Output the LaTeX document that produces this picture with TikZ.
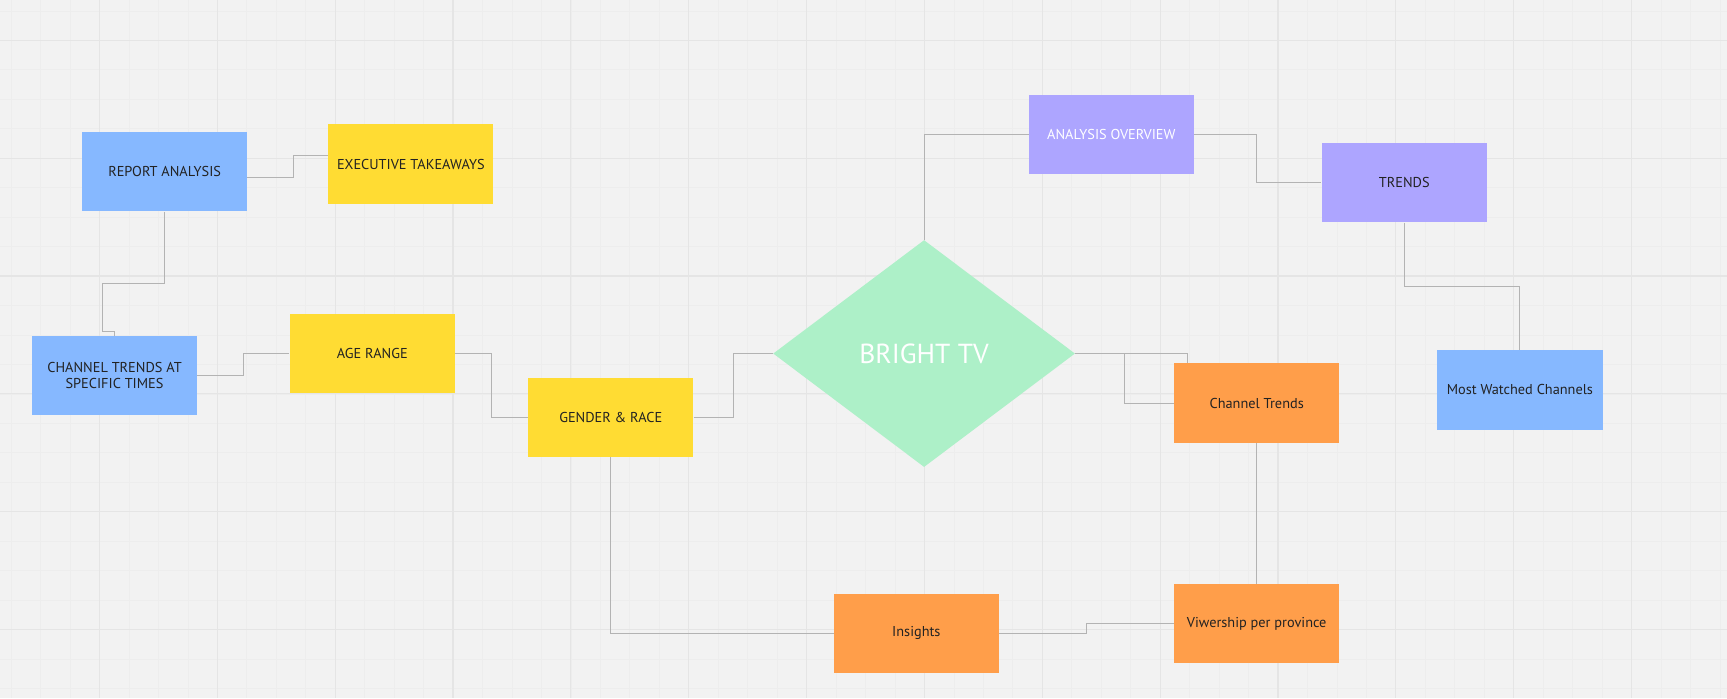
\documentclass[tikz,border=0pt]{standalone}
\usepackage{fontspec}
\setmainfont{PT Sans}
\usepackage{tikz}
\usetikzlibrary{positioning, shapes.geometric}
\definecolor{boardBg}{HTML}{F2F2F2}
\definecolor{gridMajor}{HTML}{E5E5E5}
\definecolor{gridMinor}{HTML}{EDEDED}
\definecolor{noteBlue}{HTML}{86B8FF}
\definecolor{noteYellow}{HTML}{FFDC33}
\definecolor{notePurple}{HTML}{ADA5FF}
\definecolor{noteOrange}{HTML}{FF9E4A}
\definecolor{noteGreen}{HTML}{ADF0C8}
\definecolor{linkGray}{HTML}{B3B3B3}
\definecolor{inkDark}{HTML}{222222}
\tikzset{Box/.style={%
    shape=rectangle,%
    minimum width=150pt,%
    minimum height=72pt,%
    inner sep=2pt,%
    text=inkDark,%
    align=center,%
    font=\fontsize{13}{14}\selectfont,%
}}
\tikzset{Hub/.style={%
    shape=diamond,%
    fill=noteGreen,%
    minimum width=274pt,%
    minimum height=206pt,%
    inner sep=0pt,%
    text=white,%
    font=\fontsize{25}{28}\selectfont,%
}}
\tikzset{Link/.style={%
    draw=linkGray,%
    line width=0.9pt,%
}}

\begin{document}
\begin{tikzpicture}[x=1pt, y=-1pt]
    % board and grid
    \useasboundingbox (0,0) rectangle (1568,634);
    \fill[boardBg] (0,0) rectangle (1568,634);
    \foreach \gx in {10.05,36.8,...,1568}
        \draw[gridMinor, line width=0.6pt] (\gx,0) -- (\gx,634);
    \foreach \gy in {9.85,36.6,...,634}
        \draw[gridMinor, line width=0.6pt] (0,\gy) -- (1568,\gy);
    \foreach \gx in {90.3,197.3,...,1568}
        \draw[gridMajor, line width=1pt] (\gx,0) -- (\gx,634);
    \foreach \gy in {36.6,143.6,...,634}
        \draw[gridMajor, line width=1pt] (0,\gy) -- (1568,\gy);

    % notes
    \node[Box, fill=noteBlue] (report) at (149.5,156) {REPORT ANALYSIS};
    \node[Box, fill=noteYellow] (exec) at (373,149) {EXECUTIVE TAKEAWAYS};
    \node[Box, fill=noteBlue] (times) at (104,341) {CHANNEL TRENDS AT\\SPECIFIC TIMES};
    \node[Box, fill=noteYellow] (age) at (338,321) {AGE RANGE};
    \node[Box, fill=noteYellow] (gender) at (554.5,379) {GENDER \& RACE};
    \node[Hub] (bright) at (839,321) {BRIGHT TV};
    \node[Box, fill=notePurple, text=white] (overview) at (1009,122) {ANALYSIS OVERVIEW};
    \node[Box, fill=notePurple] (trends) at (1275,166) {TRENDS};
    \node[Box, fill=noteBlue] (watched) at (1380,354) {Most Watched Channels};
    \node[Box, fill=noteOrange] (chtrends) at (1141,366) {Channel Trends};
    \node[Box, fill=noteOrange] (province) at (1141,566) {Viwership per province};
    \node[Box, fill=noteOrange] (insights) at (832,575) {Insights};

    % links
    \draw[Link] ([yshift=-5pt]report.east) -- ++(42,0) |- ([yshift=8pt]exec.west);
    \draw[Link] (report.south) -- ++(0,65) -- ++(-56,0) -- ++(0,44) -| (times.north);
    \draw[Link] (times.east) -- ++(42,0) |- (age.west);
    \draw[Link] (age.east) -- ++(33,0) |- (gender.west);
    \draw[Link] (gender.east) -- ++(36,0) |- (bright.west);
    \draw[Link] (bright.north) |- (overview.west);
    \draw[Link] (overview.east) -- ++(57,0) |- (trends.west);
    \draw[Link] (trends.south) -- ++(0,58) -| (watched.north);
    \draw[Link] (bright.east) -| ([xshift=-63pt]chtrends.north);
    \draw[Link] (bright.east) -- ++(45,0) |- (chtrends.west);
    \draw[Link] (chtrends.south) -- (province.north);
    \draw[Link] (province.west) -- ++(-79,0) |- (insights.east);
    \draw[Link] (insights.west) -| (gender.south);
\end{tikzpicture}
\end{document}
